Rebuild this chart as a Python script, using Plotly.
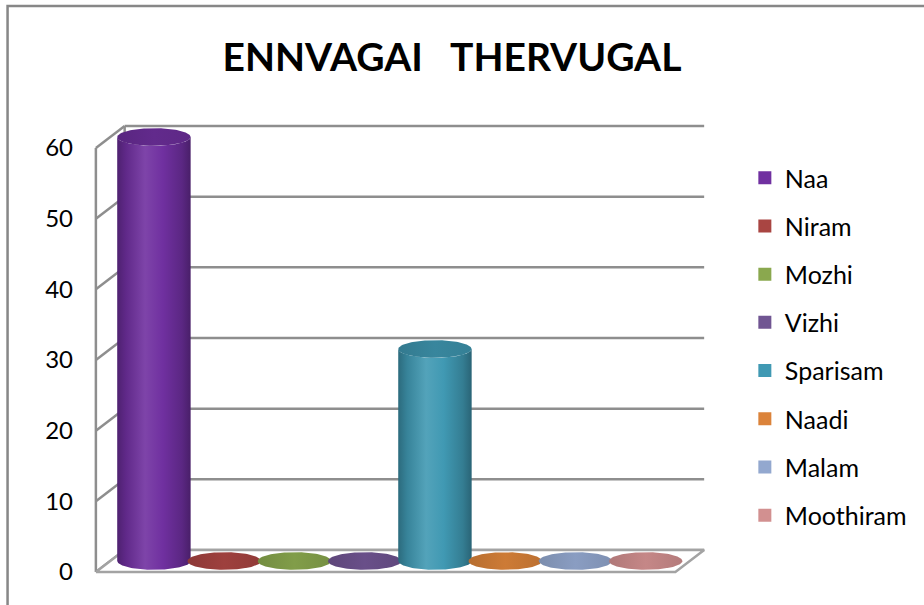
import numpy as np
import plotly.graph_objects as go

# ---- data -------------------------------------------------------------
categories = ["Naa", "Niram", "Mozhi", "Vizhi", "Sparisam", "Naadi", "Malam", "Moothiram"]
values = [60, 0, 0, 0, 30, 0, 0, 0]
series_colors = ["#7030A0", "#A94542", "#8AA84E", "#705592",
                 "#4099B3", "#DB833A", "#93A8CF", "#D29090"]
y_ticks = [0, 10, 20, 30, 40, 50, 60]
chart_title = "ENNVAGAI\u00a0\u00a0\u00a0THERVUGAL"

# ---- geometry of the pseudo-3D box (axis units) -----------------------
W, H = 924, 605
PLOT_L, PLOT_R, PLOT_T, PLOT_B = 80, 730, 105, 592   # plot area in px
FRONT_X0, FRONT_Y0 = 96, 572                         # front-left-bottom corner px
PX_X = 70.8                                          # px per category
PX_Y = 424 / 60                                      # px per value unit
DEPTH_X = 29 / PX_X                                  # box depth, x component
DEPTH_Y = 22 / PX_Y                                  # box depth, y component
FLOOR_W = 584 / PX_X                                 # front width of the floor
FIRST_CX = (154.5 - FRONT_X0) / PX_X                 # first cylinder centre (mid depth)
RX = 37 / PX_X                                       # cylinder radius (x)
RY = 8.8 / PX_Y                                      # ellipse half height (y)

x_range = [(PLOT_L - FRONT_X0) / PX_X, (PLOT_R - FRONT_X0) / PX_X]
y_range = [(FRONT_Y0 - PLOT_B) / PX_Y, (FRONT_Y0 - PLOT_T) / PX_Y]

GRID_COLOR = "#8e8e8e"
FLOOR_COLOR = "#a3a3a3"


def shade(hex_color, f):
    h = hex_color.lstrip("#")
    r, g, b = (int(h[i:i + 2], 16) for i in (0, 2, 4))
    if f <= 1:
        r, g, b = (int(c * f) for c in (r, g, b))
    else:
        t = f - 1
        r, g, b = (int(c + (255 - c) * t) for c in (r, g, b))
    return f"rgb({r},{g},{b})"


fig = go.Figure()


def line(xs, ys, color, width):
    fig.add_trace(go.Scatter(x=xs, y=ys, mode="lines", showlegend=False,
                             hoverinfo="skip",
                             line=dict(color=color, width=width)))


# back wall gridlines and side wall diagonals
for v in y_ticks:
    line([DEPTH_X, FLOOR_W + DEPTH_X], [v + DEPTH_Y, v + DEPTH_Y], GRID_COLOR, 2.5)
    line([0, DEPTH_X], [v, v + DEPTH_Y], GRID_COLOR, 2.5)
line([0, 0], [0, y_ticks[-1]], GRID_COLOR, 2.5)
line([DEPTH_X, DEPTH_X], [DEPTH_Y, y_ticks[-1] + DEPTH_Y], GRID_COLOR, 2.5)

# floor
fig.add_trace(go.Scatter(
    x=[0, FLOOR_W, FLOOR_W + DEPTH_X, DEPTH_X, 0],
    y=[0, 0, DEPTH_Y, DEPTH_Y, 0],
    mode="lines", fill="toself", fillcolor="white", showlegend=False,
    hoverinfo="skip", line=dict(color=FLOOR_COLOR, width=2.5)))

# cylinders
for i, (cat, val, col) in enumerate(zip(categories, values, series_colors)):
    cx = FIRST_CX + i
    yb = DEPTH_Y / 2
    yt = val + DEPTH_Y / 2
    if val > 0:
        t1 = np.linspace(np.pi, 2 * np.pi, 60)
        t2 = np.linspace(2 * np.pi, np.pi, 60)
        bx = np.concatenate([cx + RX * np.cos(t1), cx + RX * np.cos(t2)])
        by = np.concatenate([yb + RY * np.sin(t1), yt + RY * np.sin(t2)])
        fig.add_trace(go.Scatter(
            x=np.append(bx, bx[0]), y=np.append(by, by[0]),
            mode="lines", fill="toself", showlegend=False, hoverinfo="skip",
            line=dict(width=0, color=col),
            fillgradient=dict(type="horizontal", colorscale=[
                [0.0, shade(col, 0.70)], [0.12, shade(col, 0.86)],
                [0.38, shade(col, 1.10)], [0.62, shade(col, 1.0)],
                [0.88, shade(col, 0.82)], [1.0, shade(col, 0.66)]])))
        top_scale = [[0.0, shade(col, 0.80)], [0.5, shade(col, 0.88)],
                     [1.0, shade(col, 0.84)]]
    else:
        top_scale = [[0.0, shade(col, 0.84)], [0.5, shade(col, 0.94)],
                     [1.0, shade(col, 0.86)]]
    t = np.linspace(0, 2 * np.pi, 120)
    ex = cx + RX * np.cos(t)
    ey = yt + RY * np.sin(t)
    fig.add_trace(go.Scatter(
        x=ex, y=ey, mode="lines", fill="toself", showlegend=False,
        hoverinfo="skip", line=dict(width=0, color=col),
        fillgradient=dict(type="horizontal", colorscale=top_scale)))

# legend entries
for cat, col in zip(categories, series_colors):
    fig.add_trace(go.Scatter(
        x=[None], y=[None], mode="markers", name=cat, legendgroup=cat,
        marker=dict(symbol="square", size=13, color=col, line=dict(width=0))))

# outer chart border
fig.add_shape(type="rect", xref="paper", yref="paper", layer="below",
              x0=(7 - PLOT_L) / (PLOT_R - PLOT_L),
              x1=(940 - PLOT_L) / (PLOT_R - PLOT_L),
              y0=(PLOT_B - 625) / (PLOT_B - PLOT_T),
              y1=(PLOT_B - 6) / (PLOT_B - PLOT_T),
              line=dict(color="#878787", width=2.5), fillcolor="rgba(0,0,0,0)")

fig.update_layout(
    width=W, height=H,
    margin=dict(l=PLOT_L, r=W - PLOT_R, t=PLOT_T, b=H - PLOT_B),
    paper_bgcolor="white", plot_bgcolor="white",
    font=dict(family="Lato", color="black"),
    title=dict(text=chart_title, x=452 / W, xanchor="center",
               y=1 - 57 / H, yanchor="middle",
               font=dict(family="Lato", size=39, color="black", weight="bold")),
    xaxis=dict(range=x_range, visible=False, fixedrange=True),
    yaxis=dict(range=y_range, tickvals=y_ticks, showgrid=False,
               zeroline=False, showline=False, ticks="",
               ticklabelstandoff=6, tickfont=dict(size=24, color="black")),
    legend=dict(x=(750 - PLOT_L) / (PLOT_R - PLOT_L), xanchor="left",
                y=(PLOT_B - 155) / (PLOT_B - PLOT_T), yanchor="top",
                font=dict(size=25, color="black"), traceorder="grouped",
                tracegroupgap=12.7, itemwidth=30, bgcolor="rgba(0,0,0,0)"),
    showlegend=True,
)

fig.write_html("out.html")
